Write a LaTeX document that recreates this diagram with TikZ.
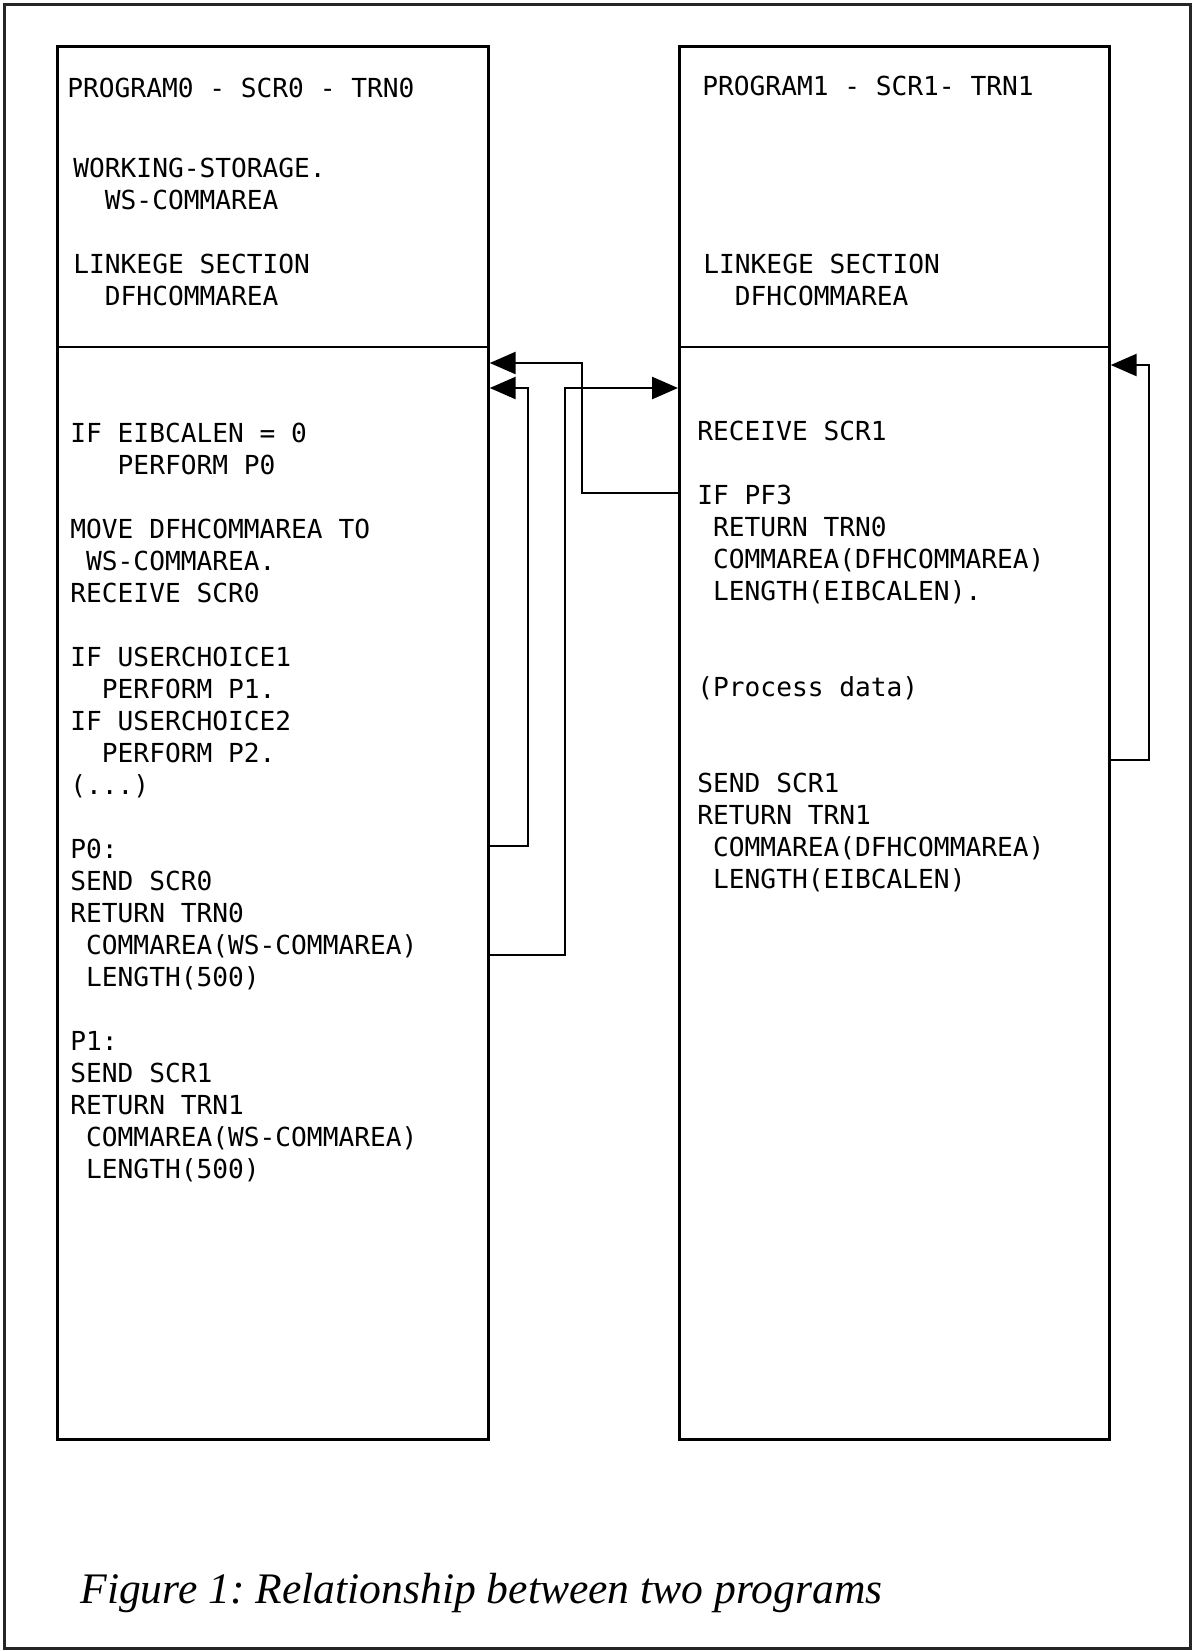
\documentclass[tikz,border=0pt]{standalone}
\usepackage{fontspec}
\usetikzlibrary{arrows.meta}
\newfontfamily\codefont{DejaVu Sans Mono}
\newfontfamily\capfont{Liberation Serif}
\newcommand\codelines[1]{\begin{tabular}[t]{@{}l@{}}#1\end{tabular}}
\tikzset{
  box/.style={draw, line width=1.35pt, rectangle, inner sep=0pt, anchor=north west},
  sepline/.style={line width=1.1pt},
  conn/.style={line width=1.3pt},
  arr/.style={conn, -{Triangle[length=13pt,width=11pt]}},
  code/.style={anchor=base west, inner sep=0pt, font=\codefont\fontsize{13.1pt}{16pt}\selectfont\frenchspacing},
  captxt/.style={anchor=base west, inner sep=0pt, font=\capfont\itshape\fontsize{21.8pt}{26pt}\selectfont\frenchspacing},
}
\begin{document}
\begin{tikzpicture}[x=0.5pt,y=-0.5pt]
\useasboundingbox (0,0) rectangle (1192,1651);
\draw[line width=1.5pt, black!85] (4,4) rectangle (1190,1648);

\node[box, minimum width=215.5pt, minimum height=696.5pt] (L) at (56,45) {};
\node[box, minimum width=215pt, minimum height=696.5pt] (R) at (678,45) {};
\draw[sepline] (L.west |- 0,347) -- (L.east |- 0,347);
\draw[sepline] (R.west |- 0,347) -- (R.east |- 0,347);

% left program
\node[code] (lhead) at (67,97) {PROGRAM0 - SCR0 - TRN0};
\node[code] (ldata) at (73,177) {\codelines{WORKING-STORAGE.\\~~WS-COMMAREA\\\\LINKEGE SECTION\\~~DFHCOMMAREA}};
\node[code] (lbody) at (70,442) {\codelines{IF EIBCALEN = 0\\~~~PERFORM P0\\\\MOVE DFHCOMMAREA TO\\~WS-COMMAREA.\\RECEIVE SCR0\\\\IF USERCHOICE1\\~~PERFORM P1.\\IF USERCHOICE2\\~~PERFORM P2.\\(...)\\\\P0:\\SEND SCR0\\RETURN TRN0\\~COMMAREA(WS-COMMAREA)\\~LENGTH(500)\\\\P1:\\SEND SCR1\\RETURN TRN1\\~COMMAREA(WS-COMMAREA)\\~LENGTH(500)}};

% right program
\node[code] (rhead) at (702,95) {PROGRAM1 - SCR1- TRN1};
\node[code] (rdata) at (703,273) {\codelines{LINKEGE SECTION\\~~DFHCOMMAREA}};
\node[code] (rbody) at (697,440) {\codelines{RECEIVE SCR1\\\\IF PF3\\~RETURN TRN0\\~COMMAREA(DFHCOMMAREA)\\~LENGTH(EIBCALEN).\\\\\\(Process data)\\\\\\SEND SCR1\\RETURN TRN1\\~COMMAREA(DFHCOMMAREA)\\~LENGTH(EIBCALEN)}};

% connectors
\draw[arr] (R.west |- 0,493) -| (582,363) -- (L.east |- 0,363);
\draw[arr] (L.east |- 0,846) -| (528,388) -- (L.east |- 0,388);
\draw[arr] (L.east |- 0,955) -| (565,388) -- (R.west |- 0,388);
\draw[arr] (R.east |- 0,760) -| (1149,365) -- (R.east |- 0,365);

\node[captxt] (cap) at (80,1603) {Figure 1: Relationship between two programs};
\end{tikzpicture}
\end{document}
